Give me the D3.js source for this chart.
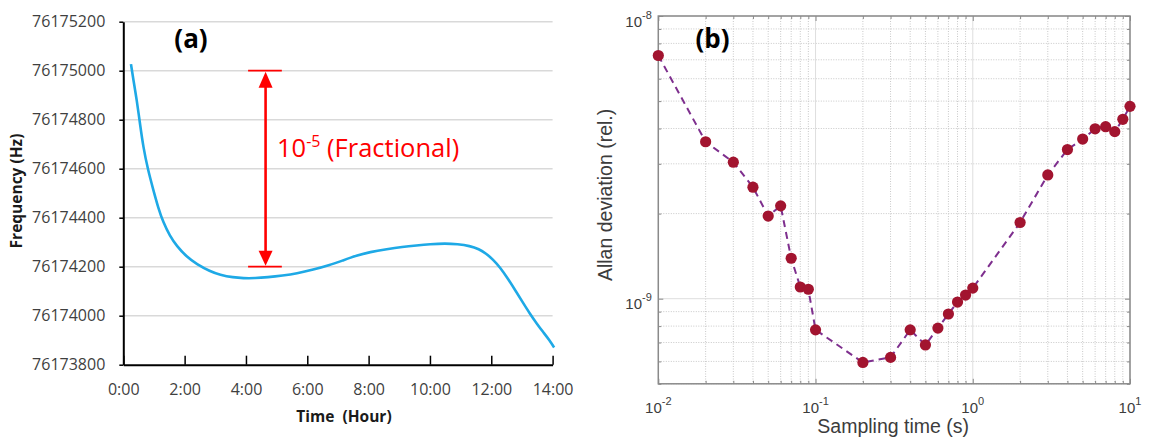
<!DOCTYPE html>
<html><head><meta charset="utf-8">
<script src="https://cdn.jsdelivr.net/npm/d3@7"></script>
<style>body{margin:0;background:#fff;overflow:hidden}</style>
</head><body>
<svg id="chart" width="1151" height="445"></svg>
<script>
// ---------- Panel (a): frequency vs time ----------
const timeHours = [0.25, 0.33, 0.44, 0.55, 0.65, 0.8, 0.98, 1.14, 1.3, 1.52, 1.74, 2.07, 2.39, 2.83, 3.15, 3.59, 3.91, 4.3, 4.7, 5.2, 5.65, 6.2, 6.7, 7.17, 7.6, 8.04, 8.6, 9.1, 9.56, 10.0, 10.5, 10.9, 11.3, 11.6, 11.83, 12.05, 12.27, 12.55, 12.81, 13.05, 13.25, 13.5, 13.68, 13.9, 14.05];
const frequencyHz = [76175027, 76174962, 76174880, 76174778, 76174690, 76174597, 76174513, 76174440, 76174382, 76174325, 76174285, 76174240, 76174211, 76174181, 76174167, 76174156, 76174153, 76174153, 76174157, 76174164, 76174172, 76174188, 76174205, 76174226, 76174245, 76174260, 76174272, 76174281, 76174287, 76174292, 76174295, 76174292, 76174285, 76174272, 76174254, 76174230, 76174200, 76174150, 76174098, 76174050, 76174010, 76173965, 76173935, 76173900, 76173870];
const freqTicks = [76173800, 76174000, 76174200, 76174400, 76174600, 76174800, 76175000, 76175200];
const timeTicks = [0, 2, 4, 6, 8, 10, 12, 14];
const arrowTime = 4.64;
const arrowFreqs = [76175000, 76174200];
const capTimes = [4.07, 5.17];
const annotationText = ["10", "-5", " (Fractional)"];

// ---------- Panel (b): Allan deviation ----------
const tau = [0.01, 0.02, 0.03, 0.04, 0.05, 0.06, 0.07, 0.08, 0.09, 0.1, 0.2, 0.3, 0.4, 0.5, 0.6, 0.7, 0.8, 0.9, 1, 2, 3, 4, 5, 6, 7, 8, 9, 10];
const adev = [7.25e-9, 3.59e-9, 3.04e-9, 2.48e-9, 1.96e-9, 2.13e-9, 1.39e-9, 1.10e-9, 1.08e-9, 7.76e-10, 5.95e-10, 6.2e-10, 7.76e-10, 6.86e-10, 7.87e-10, 8.83e-10, 9.73e-10, 1.03e-9, 1.09e-9, 1.86e-9, 2.74e-9, 3.37e-9, 3.67e-9, 3.99e-9, 4.06e-9, 3.90e-9, 4.31e-9, 4.79e-9];
const tauDecades = [-2, -1, 0, 1];
const adevDecades = [-9, -8];

const svg = d3.select("#chart");
const fontA = "'Open Sans', 'Noto Sans', sans-serif";
const fontB = "'Liberation Sans', Arial, sans-serif";

// ===== Panel (a) =====
(function () {
  const L = 123.3, R = 552.6, T = 21.7, B = 364.7;
  const x = d3.scaleLinear().domain([0, 14]).range([L, R]);
  const y = d3.scaleLinear().domain([76173800, 76175200]).range([B, T]);
  const g = svg.append("g");

  // gridlines
  g.append("g").selectAll("line").data(freqTicks.slice(1)).join("line")
    .attr("x1", L).attr("x2", R).attr("y1", d => y(d)).attr("y2", d => y(d))
    .attr("stroke", "#d9d9d9").attr("stroke-width", 1.5);

  // curve
  g.append("path")
    .datum(timeHours.map((t, i) => [t, frequencyHz[i]]))
    .attr("fill", "none").attr("stroke", "#1ea9e6").attr("stroke-width", 2.6)
    .attr("stroke-linejoin", "round").attr("stroke-linecap", "butt")
    .attr("d", d3.line().x(d => x(d[0])).y(d => y(d[1])).curve(d3.curveBasis));

  // y axis
  const ya = g.append("g").attr("transform", `translate(${L},0)`)
    .call(d3.axisLeft(y).tickValues(freqTicks).tickFormat(d3.format("d")).tickSize(4).tickSizeOuter(0).tickPadding(14));
  ya.select(".domain").attr("stroke", "#000").attr("stroke-width", 2);
  ya.selectAll(".tick line").attr("stroke", "#000").attr("stroke-width", 1.5);
  ya.selectAll("text").attr("font-family", fontA).attr("font-size", 16).attr("fill", "#3f3f3f");

  // x axis
  const xa = g.append("g").attr("transform", `translate(0,${B})`)
    .call(d3.axisBottom(x).tickValues(timeTicks).tickFormat(d => d + ":00").tickSize(-9).tickSizeOuter(0).tickPadding(19));
  xa.select(".domain").attr("stroke", "#000").attr("stroke-width", 2);
  xa.selectAll(".tick line").attr("stroke", "#000").attr("stroke-width", 1.5);
  xa.selectAll("text").attr("font-family", fontA).attr("font-size", 16).attr("fill", "#3f3f3f");

  // axis titles
  g.append("text").attr("x", 344).attr("y", 421.5).attr("text-anchor", "middle")
    .attr("font-family", fontA).attr("font-weight", "bold").attr("font-size", 15.5).attr("fill", "#1a1a1a")
    .attr("xml:space", "preserve").text("Time  (Hour)");
  g.append("text").attr("transform", `translate(22,191) rotate(-90)`).attr("text-anchor", "middle")
    .attr("font-family", fontA).attr("font-weight", "bold").attr("font-size", 15.5).attr("fill", "#1a1a1a")
    .text("Frequency (Hz)");

  // panel label
  g.append("text").attr("x", 191).attr("y", 47.5).attr("text-anchor", "middle")
    .attr("font-family", fontA).attr("font-weight", "bold").attr("font-size", 26).attr("fill", "#000").text("(a)");

  // annotation arrow
  const red = "#ff0000";
  const ax = x(arrowTime), yTop = y(arrowFreqs[0]), yBot = y(arrowFreqs[1]);
  arrowFreqs.forEach(f => {
    g.append("line").attr("x1", x(capTimes[0])).attr("x2", x(capTimes[1]))
      .attr("y1", y(f)).attr("y2", y(f)).attr("stroke", red).attr("stroke-width", 1.8);
  });
  g.append("line").attr("x1", ax).attr("x2", ax).attr("y1", yTop + 14).attr("y2", yBot - 14)
    .attr("stroke", red).attr("stroke-width", 2.6);
  g.append("path").attr("d", `M${ax},${yTop + 1}L${ax - 7},${yTop + 17}L${ax + 7},${yTop + 17}Z`).attr("fill", red);
  g.append("path").attr("d", `M${ax},${yBot - 1}L${ax - 7},${yBot - 16}L${ax + 7},${yBot - 16}Z`).attr("fill", red);

  const t = g.append("text").attr("x", 277).attr("y", 156.5)
    .attr("font-family", fontA).attr("font-size", 25.5).attr("fill", red).attr("xml:space", "preserve");
  t.append("tspan").text(annotationText[0]);
  t.append("tspan").attr("font-size", 16).attr("dy", -10).text(annotationText[1]);
  t.append("tspan").attr("dy", 10).text(annotationText[2]);
})();

// ===== Panel (b) =====
(function () {
  const L = 658.3, R = 1130, T = 16, B = 383.8;
  const x = d3.scaleLog().domain([0.01, 10]).range([L, R]);
  const y = d3.scaleLog().domain([5e-10, 1e-8]).range([B, T]);
  const g = svg.append("g");

  const xMajor = tauDecades.map(e => Math.pow(10, e));
  const xMinor = [];
  tauDecades.slice(0, -1).forEach(e => { for (let k = 2; k <= 9; k++) xMinor.push(k * Math.pow(10, e)); });
  const yMajor = adevDecades.map(e => Math.pow(10, e));
  const yMinor = [5e-10, 6e-10, 7e-10, 8e-10, 9e-10];
  for (let k = 2; k <= 9; k++) yMinor.push(k * 1e-9);

  // grid
  const grid = g.append("g");
  grid.selectAll(".vmin").data(xMinor).join("line")
    .attr("x1", d => x(d)).attr("x2", d => x(d)).attr("y1", T).attr("y2", B)
    .attr("stroke", "#c8c8c8").attr("stroke-width", 1).attr("stroke-dasharray", "1,1.5");
  grid.selectAll(".hmin").data(yMinor).join("line")
    .attr("x1", L).attr("x2", R).attr("y1", d => y(d)).attr("y2", d => y(d))
    .attr("stroke", "#c8c8c8").attr("stroke-width", 1).attr("stroke-dasharray", "1,1.5");
  grid.selectAll(".vmaj").data(xMajor).join("line")
    .attr("x1", d => x(d)).attr("x2", d => x(d)).attr("y1", T).attr("y2", B)
    .attr("stroke", "#dedede").attr("stroke-width", 1);
  grid.selectAll(".hmaj").data(yMajor).join("line")
    .attr("x1", L).attr("x2", R).attr("y1", d => y(d)).attr("y2", d => y(d))
    .attr("stroke", "#dedede").attr("stroke-width", 1);

  // axes (inward ticks on all four sides)
  const axColor = "#8a8a8a";
  function styleAxis(sel) {
    sel.select(".domain").remove();
    sel.selectAll(".tick line").attr("stroke", axColor).attr("stroke-width", 1);
    sel.selectAll("text").remove();
  }
  [[d3.axisBottom, B], [d3.axisTop, T]].forEach(([fn, pos]) => {
    g.append("g").attr("transform", `translate(0,${pos})`)
      .call(fn(x).tickValues(xMajor).tickSize(-5)).call(styleAxis);
    g.append("g").attr("transform", `translate(0,${pos})`)
      .call(fn(x).tickValues(xMinor).tickSize(-3)).call(styleAxis);
  });
  [[d3.axisLeft, L], [d3.axisRight, R]].forEach(([fn, pos]) => {
    g.append("g").attr("transform", `translate(${pos},0)`)
      .call(fn(y).tickValues(yMajor).tickSize(-5)).call(styleAxis);
    g.append("g").attr("transform", `translate(${pos},0)`)
      .call(fn(y).tickValues(yMinor).tickSize(-3)).call(styleAxis);
  });
  g.append("rect").attr("x", L).attr("y", T).attr("width", R - L).attr("height", B - T)
    .attr("fill", "none").attr("stroke", axColor).attr("stroke-width", 1.5);

  // tick labels
  const labColor = "#3c3c3c";
  xMajor.forEach((v, i) => {
    const t = g.append("text").attr("x", x(v)).attr("y", 413).attr("text-anchor", "middle")
      .attr("font-family", fontB).attr("font-size", 15).attr("fill", labColor);
    t.append("tspan").text("10");
    t.append("tspan").attr("font-size", 11).attr("dy", -8).text(String(tauDecades[i]));
  });
  yMajor.forEach((v, i) => {
    const t = g.append("text").attr("x", L - 6.5).attr("y", y(v) + 10.5).attr("text-anchor", "end")
      .attr("font-family", fontB).attr("font-size", 15).attr("fill", labColor);
    t.append("tspan").text("10");
    t.append("tspan").attr("font-size", 11).attr("dy", -8).text(String(adevDecades[i]));
  });

  // axis titles
  g.append("text").attr("x", (L + R) / 2 - 1).attr("y", 433).attr("text-anchor", "middle")
    .attr("font-family", fontB).attr("font-size", 19.5).attr("fill", labColor).text("Sampling time (s)");
  g.append("text").attr("transform", `translate(612,${(T + B) / 2 - 5}) rotate(-90)`).attr("text-anchor", "middle")
    .attr("font-family", fontB).attr("font-size", 19.5).attr("fill", labColor).text("Allan deviation (rel.)");

  // panel label
  g.append("text").attr("x", 712.5).attr("y", 47.5).attr("text-anchor", "middle")
    .attr("font-family", fontA).attr("font-weight", "bold").attr("font-size", 26).attr("fill", "#000").text("(b)");

  // data
  const pts = tau.map((t, i) => [t, adev[i]]);
  g.append("path").datum(pts)
    .attr("fill", "none").attr("stroke", "#7e2f8e").attr("stroke-width", 2)
    .attr("stroke-dasharray", "7,5")
    .attr("d", d3.line().x(d => x(d[0])).y(d => y(d[1])));
  g.append("g").selectAll("circle").data(pts).join("circle")
    .attr("cx", d => x(d[0])).attr("cy", d => y(d[1])).attr("r", 5.6)
    .attr("fill", "#a2142f");
})();
</script>
</body></html>
